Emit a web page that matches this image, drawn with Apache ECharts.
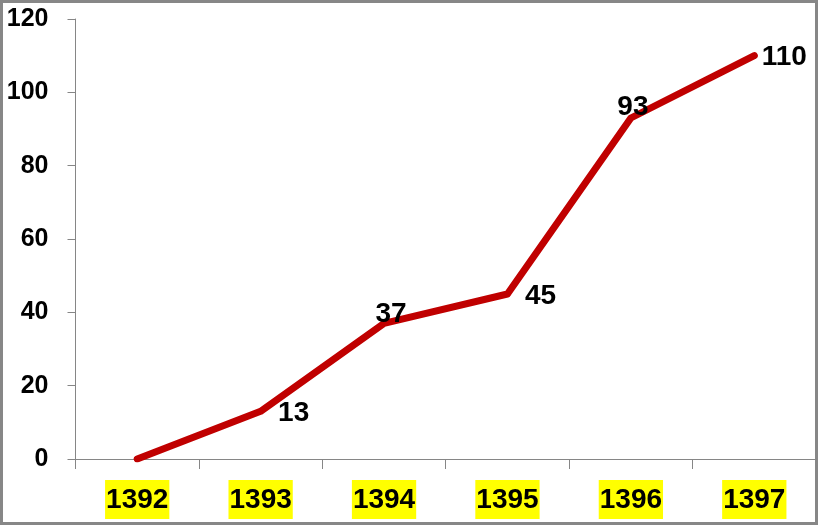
<!DOCTYPE html>
<html><head><meta charset="utf-8">
<script src="https://cdn.jsdelivr.net/npm/echarts@6/dist/echarts.min.js"></script>
<style>html,body{margin:0;padding:0;background:#fff}#c{width:818px;height:525px}</style>
</head><body><div id="c"></div>
<script>
var categories = ['1392','1393','1394','1395','1396','1397'];
var values = [0, 13, 37, 45, 93, 110];
var yTicks = [0, 20, 40, 60, 80, 100, 120];

var chart = echarts.init(document.getElementById('c'));
var font = 'Liberation Sans';
var labelOffsets = [[0,0],[33,2],[7,-9],[33,2],[2,-11],[30,2]];
var dataItems = values.map(function(v, i){
  return {value: v, label: {show: i > 0, position: 'inside', offset: labelOffsets[i]}};
});
chart.setOption({
  animation: false,
  graphic: [{type:'rect', shape:{x:1.5,y:1.5,width:815,height:522}, style:{fill:'none', stroke:'#878787', lineWidth:3}, silent:true}],
  grid: {left: 75.5, right: 2, top: 19, bottom: 66},
  xAxis: {
    type: 'category', data: categories, boundaryGap: true,
    axisLine: {lineStyle: {color: '#868686', width: 1}},
    axisTick: {show: true, length: 10, lineStyle: {color: '#868686'}},
    axisLabel: {color: '#000', fontFamily: font, fontWeight: 'bold', fontSize: 28, backgroundColor: '#ffff00', padding: [6, 1, 5, 1], margin: 21}
  },
  yAxis: {
    type: 'value', min: 0, max: 120, interval: 20,
    axisLine: {show: true, lineStyle: {color: '#868686', width: 1}},
    axisTick: {show: true, length: 8, lineStyle: {color: '#868686'}},
    splitLine: {show: false},
    axisLabel: {color: '#000', fontFamily: font, fontWeight: 'bold', fontSize: 25, margin: 27,
      formatter: function(v){ return yTicks.indexOf(v) >= 0 ? String(v) : ''; }}
  },
  series: [{
    type: 'line', data: dataItems, showSymbol: true, symbol: 'circle', symbolSize: 6,
    lineStyle: {color: '#c00000', width: 7, cap: 'round', join: 'round'}, itemStyle: {color: '#c00000'},
    label: {show: true, color: '#000', fontFamily: font, fontWeight: 'bold', fontSize: 28}
  }]
});
</script></body></html>
